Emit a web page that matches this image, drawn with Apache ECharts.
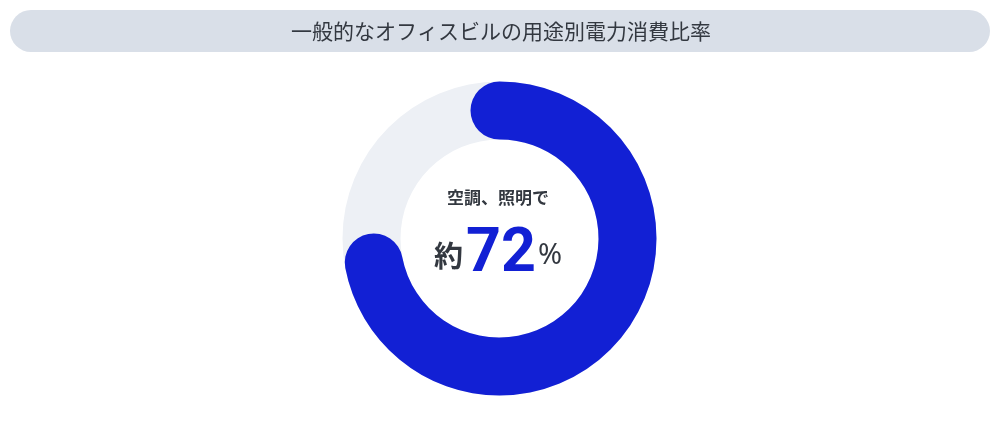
<!DOCTYPE html>
<html>
<head>
<meta charset="utf-8">
<script src="https://cdn.jsdelivr.net/npm/echarts@6/dist/echarts.min.js"></script>
<style>
html,body{margin:0;padding:0;background:#fff;}
#chart{width:1000px;height:426px;}
</style>
</head>
<body>
<div id="chart"></div>
<script>
var chartTitle = '一般的なオフィスビルの用途別電力消費比率';
var categories = ['空調、照明'];
var values = [72];
var axisMax = 100;
var centerLabel = '空調、照明で';
var prefix = '約';
var suffix = '%';

var chart = echarts.init(document.getElementById('chart'));
var font = '"Noto Sans CJK JP", "Noto Sans", sans-serif';
chart.setOption({
  animation: false,
  polar: { center: [499.5, 238.5], radius: [99, 157] },
  angleAxis: { type: 'value', max: axisMax, min: 0, startAngle: 90, clockwise: true, show: false },
  radiusAxis: { type: 'category', data: categories, show: false },
  series: [{
    type: 'bar',
    coordinateSystem: 'polar',
    data: values,
    roundCap: true,
    barCategoryGap: '0%',
    showBackground: true,
    backgroundStyle: { color: '#edf0f5' },
    itemStyle: { color: '#1220d4' }
  }],
  graphic: [
    { type: 'rect', left: 10, top: 10, z: -1, shape: { width: 980, height: 42, r: 21 }, style: { fill: '#d9dfe8' } },
    { type: 'text', x: 501, y: 31, style: { text: chartTitle, fill: '#333840', font: '400 21px ' + font, textAlign: 'center', textVerticalAlign: 'middle' } },
    { type: 'text', x: 498, y: 198, style: { text: centerLabel, fill: '#333840', font: '600 17px ' + font, textAlign: 'center', textVerticalAlign: 'middle' } },
    { type: 'text', x: 498, y: 286, style: {
      text: '{a|' + prefix + '}{b|' + values[0] + '}{c|' + suffix + '}',
      textAlign: 'center', textVerticalAlign: 'bottom',
      rich: {
        a: { fontFamily: font, fontSize: 29, fontWeight: 600, fill: '#333840', color: '#333840', padding: [0, 3, 0, 0] },
        b: { fontFamily: 'Roboto, "Noto Sans", sans-serif', fontSize: 61, fontWeight: 700, fill: '#1220d4', color: '#1220d4' },
        c: { fontFamily: '"Noto Sans", sans-serif', fontSize: 29, fontWeight: 400, fill: '#333840', color: '#333840', padding: [0, 0, 0, 2] }
      }
    } }
  ]
});
</script>
</body>
</html>
